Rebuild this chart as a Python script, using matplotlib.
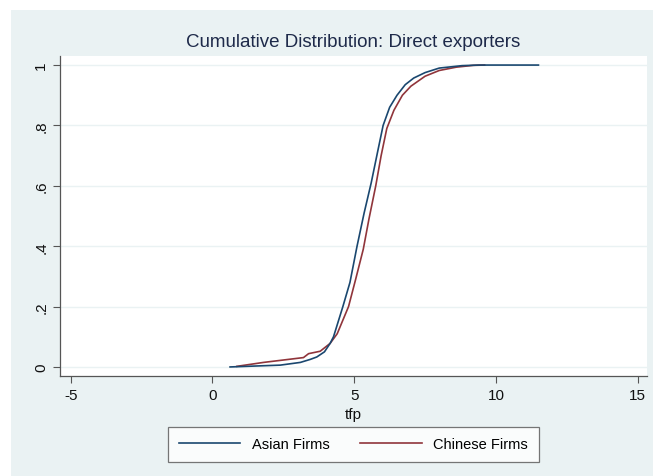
import matplotlib
matplotlib.use('Agg')
import matplotlib.pyplot as plt
from matplotlib.patches import Rectangle

plt.rcParams['font.family'] = ['Liberation Sans', 'DejaVu Sans']
plt.rcParams['axes.unicode_minus'] = False

# cumulative distribution
asian_tfp = [0.62, 2.39, 3.10, 3.45, 3.68, 3.95, 4.15, 4.27, 4.60, 4.85, 5.10, 5.35,
             5.60, 5.82, 6.02, 6.25, 6.51, 6.80, 7.10, 7.50, 8.00, 8.80, 9.40, 11.5]
asian_cdf = [0.0, 0.006, 0.015, 0.025, 0.033, 0.05, 0.078, 0.10, 0.20, 0.28, 0.40, 0.51,
             0.61, 0.71, 0.80, 0.86, 0.90, 0.935, 0.957, 0.975, 0.99, 0.998, 1.0, 1.0]

chinese_tfp = [0.86, 1.80, 3.21, 3.39, 3.80, 4.15, 4.40, 4.80, 5.05, 5.32, 5.52,
               5.76, 5.95, 6.15, 6.40, 6.70, 7.00, 7.50, 8.00, 8.60, 9.20, 9.60]
chinese_cdf = [0.002, 0.015, 0.031, 0.044, 0.052, 0.078, 0.11, 0.20, 0.29, 0.39, 0.49,
               0.60, 0.70, 0.79, 0.85, 0.90, 0.93, 0.963, 0.982, 0.993, 0.999, 1.0]

xticks = [-5, 0, 5, 10, 15]
yticks = [0, 0.2, 0.4, 0.6, 0.8, 1.0]
ylabels = ['0', '.2', '.4', '.6', '.8', '1']

bg = '#eaf2f3'
fig = plt.figure(figsize=(6.53, 4.77), dpi=100, facecolor='white')
fig.patches.append(Rectangle((11/653, 0), 1, 1 - 11/477, transform=fig.transFigure,
                             facecolor=bg, edgecolor='none', zorder=-10))

ax = fig.add_axes([60/653, 1 - 377/477, 587/653, 320/477])
ax.set_facecolor('white')

ax.plot(asian_tfp, asian_cdf, color='#1a476f', lw=1.2, label='Asian Firms', zorder=3)
ax.plot(chinese_tfp, chinese_cdf, color='#90353b', lw=1.2, label='Chinese Firms', zorder=2)

ax.set_xlim(-5.38, 15.33)
ax.set_ylim(-0.03, 1.03)
ax.set_xticks(xticks)
ax.set_yticks(yticks)
ax.set_yticklabels(ylabels, rotation=90, va='center')
ax.tick_params(labelsize=11, length=5, width=0.8, direction='out',
               colors='#555555', labelcolor='#111111')
ax.grid(axis='y', color=bg, lw=1)
ax.set_axisbelow(True)

for s in ['top', 'right']:
    ax.spines[s].set_visible(False)
for s in ['left', 'bottom']:
    ax.spines[s].set_color('#555555')
    ax.spines[s].set_linewidth(0.9)

ax.set_xlabel('tfp', fontsize=11, color='#111111', labelpad=4)
ax.set_title('Cumulative Distribution: Direct exporters', fontsize=13.5,
             color='#1e2a4a', pad=7.5)

leg = fig.legend(loc='center', bbox_to_anchor=(353.5/653, 1 - 445.5/477), ncol=2,
                 fontsize=10.5, frameon=True, fancybox=False, edgecolor='#555555',
                 handlelength=4.2, columnspacing=2.1, borderpad=0.75,
                 handletextpad=0.8, borderaxespad=0)
leg.get_frame().set_linewidth(0.9)

fig.savefig('out.png', dpi=100, facecolor=fig.get_facecolor())
